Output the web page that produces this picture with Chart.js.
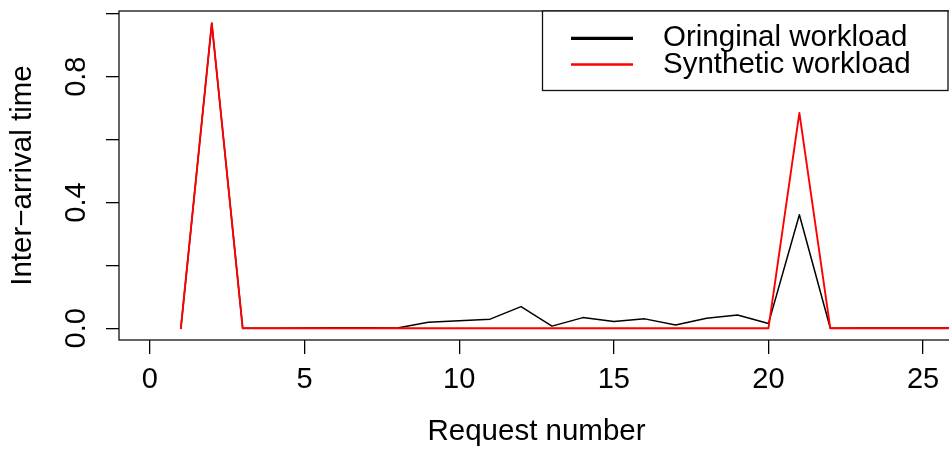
<!DOCTYPE html>
<html lang="en">
<head>
  <meta charset="UTF-8">
  <title>Inter-arrival time per request</title>
  <script src="https://cdn.jsdelivr.net/npm/chart.js@4.4.1/dist/chart.umd.min.js"></script>
  <style>
    html, body { margin: 0; padding: 0; overflow: hidden; background: #fff; }
    #iatchart { display: block; }
  </style>
</head>
<body>
  <canvas id="iatchart" width="954" height="452"></canvas>
  <script>
    // request numbers and inter-arrival times (seconds)
    const requests = [1, 2, 3, 4, 5, 6, 7, 8, 9, 10, 11, 12, 13, 14, 15, 16, 17, 18, 19, 20, 21, 22, 23, 24, 25, 26, 27];
    const original = [0, 0.97, 0, 0, 0.001, 0.002, 0.002, 0.001, 0.019, 0.024, 0.029, 0.069, 0.007, 0.034,
      0.022, 0.030, 0.0105, 0.032, 0.042, 0.015, 0.361, 0, 0.001, 0.001, 0.001, 0.001, 0.001];
    const synthetic = [0, 0.97, 0, 0, 0, 0, 0, 0, 0, 0, 0, 0, 0, 0,
      0, 0, 0, 0, 0, 0, 0.685, 0, 0, 0, 0, 0, 0];

    const xTicks = [0, 5, 10, 15, 20, 25];
    const yTicks = [0, 0.2, 0.4, 0.6, 0.8, 1.0];
    const yTickLabels = ['0.0', '', '0.4', '', '0.8', ''];

    const seriesNames = ['Oringinal workload', 'Synthetic workload'];
    const seriesColors = ['#000000', '#ff0000'];

    const FONT = '"Liberation Sans", Arial, Helvetica, sans-serif';

    function points(ys) {
      return requests.map((x, i) => ({ x: x, y: ys[i] }));
    }

    // fixed axis sizes, no extra room reserved for the end labels
    function fixWidth(w) {
      return (scale) => {
        scale.width = w;
        scale.paddingTop = 0;
        scale.paddingBottom = 0;
      };
    }
    function fixHeight(h) {
      return (scale) => {
        scale.height = h;
        scale.paddingLeft = 0;
        scale.paddingRight = 0;
      };
    }

    // box round the plot plus the legend in the top right corner
    const frame = {
      id: 'frame',
      afterDraw(chart) {
        const { ctx, chartArea: a } = chart;
        ctx.save();
        ctx.strokeStyle = '#111';
        ctx.lineWidth = 1.3;
        ctx.strokeRect(a.left, a.top, a.right - a.left, a.bottom - a.top);

        const bx = 542.5, by = 11, bw = 405.5, bh = 79.5;
        ctx.fillStyle = '#fff';
        ctx.fillRect(bx, by, bw, bh);
        ctx.strokeRect(bx, by, bw, bh);

        const rows = [38.3, 64.5];
        const widths = [3.2, 2.4];
        ctx.font = '29.5px ' + FONT;
        ctx.textBaseline = 'middle';
        ctx.textAlign = 'left';
        rows.forEach((y, i) => {
          ctx.beginPath();
          ctx.strokeStyle = seriesColors[i];
          ctx.lineWidth = widths[i];
          ctx.moveTo(571, y);
          ctx.lineTo(633, y);
          ctx.stroke();
          ctx.fillStyle = '#000';
          ctx.fillText(seriesNames[i], 663, y);
        });
        ctx.restore();
      }
    };

    const ctx = document.getElementById('iatchart').getContext('2d');
    new Chart(ctx, {
      type: 'line',
      data: {
        datasets: [{
          label: seriesNames[0],
          data: points(original),
          borderColor: seriesColors[0],
          borderWidth: 1.5,
          order: 1
        }, {
          label: seriesNames[1],
          data: points(synthetic),
          borderColor: seriesColors[1],
          borderWidth: 1.9,
          order: 0
        }]
      },
      options: {
        responsive: false,
        animation: false,
        devicePixelRatio: 1,
        layout: {
          autoPadding: false,
          padding: { top: 11, left: 0, right: 0, bottom: 0 }
        },
        elements: {
          point: { radius: 0, hoverRadius: 0 },
          line: { tension: 0, fill: false, borderJoinStyle: 'round', borderCapStyle: 'round' }
        },
        scales: {
          x: {
            type: 'linear',
            min: -1,
            max: 26,
            afterFit: fixHeight(112),
            afterBuildTicks: (scale) => { scale.ticks = xTicks.map(v => ({ value: v })); },
            grid: { drawOnChartArea: false, drawTicks: true, tickLength: 14, color: '#000', lineWidth: 1.3 },
            border: { display: false },
            ticks: {
              autoSkip: false,
              maxRotation: 0,
              padding: 9,
              color: '#000',
              font: { family: FONT, size: 29 },
              callback: (v) => String(v)
            },
            title: {
              display: true,
              text: 'Request number',
              color: '#000',
              font: { family: FONT, size: 29.5, lineHeight: 1 },
              padding: { top: 0, bottom: 5 }
            }
          },
          y: {
            type: 'linear',
            min: -0.0372,
            max: 1.0089,
            afterFit: fixWidth(119),
            afterBuildTicks: (scale) => { scale.ticks = yTicks.map(v => ({ value: v })); },
            grid: { drawOnChartArea: false, drawTicks: true, tickLength: 13, color: '#000', lineWidth: 1.3 },
            border: { display: false },
            ticks: {
              autoSkip: false,
              minRotation: 90,
              maxRotation: 90,
              crossAlign: 'center',
              padding: 9,
              color: '#000',
              font: { family: FONT, size: 29 },
              callback: (v, i) => yTickLabels[i]
            },
            title: {
              display: true,
              text: 'Inter\u2212arrival time',
              color: '#000',
              font: { family: FONT, size: 29.5, lineHeight: 1 },
              padding: { top: 8, bottom: 0 }
            }
          }
        },
        plugins: {
          legend: { display: false },
          tooltip: { enabled: false }
        }
      },
      plugins: [frame]
    });
  </script>
</body>
</html>
